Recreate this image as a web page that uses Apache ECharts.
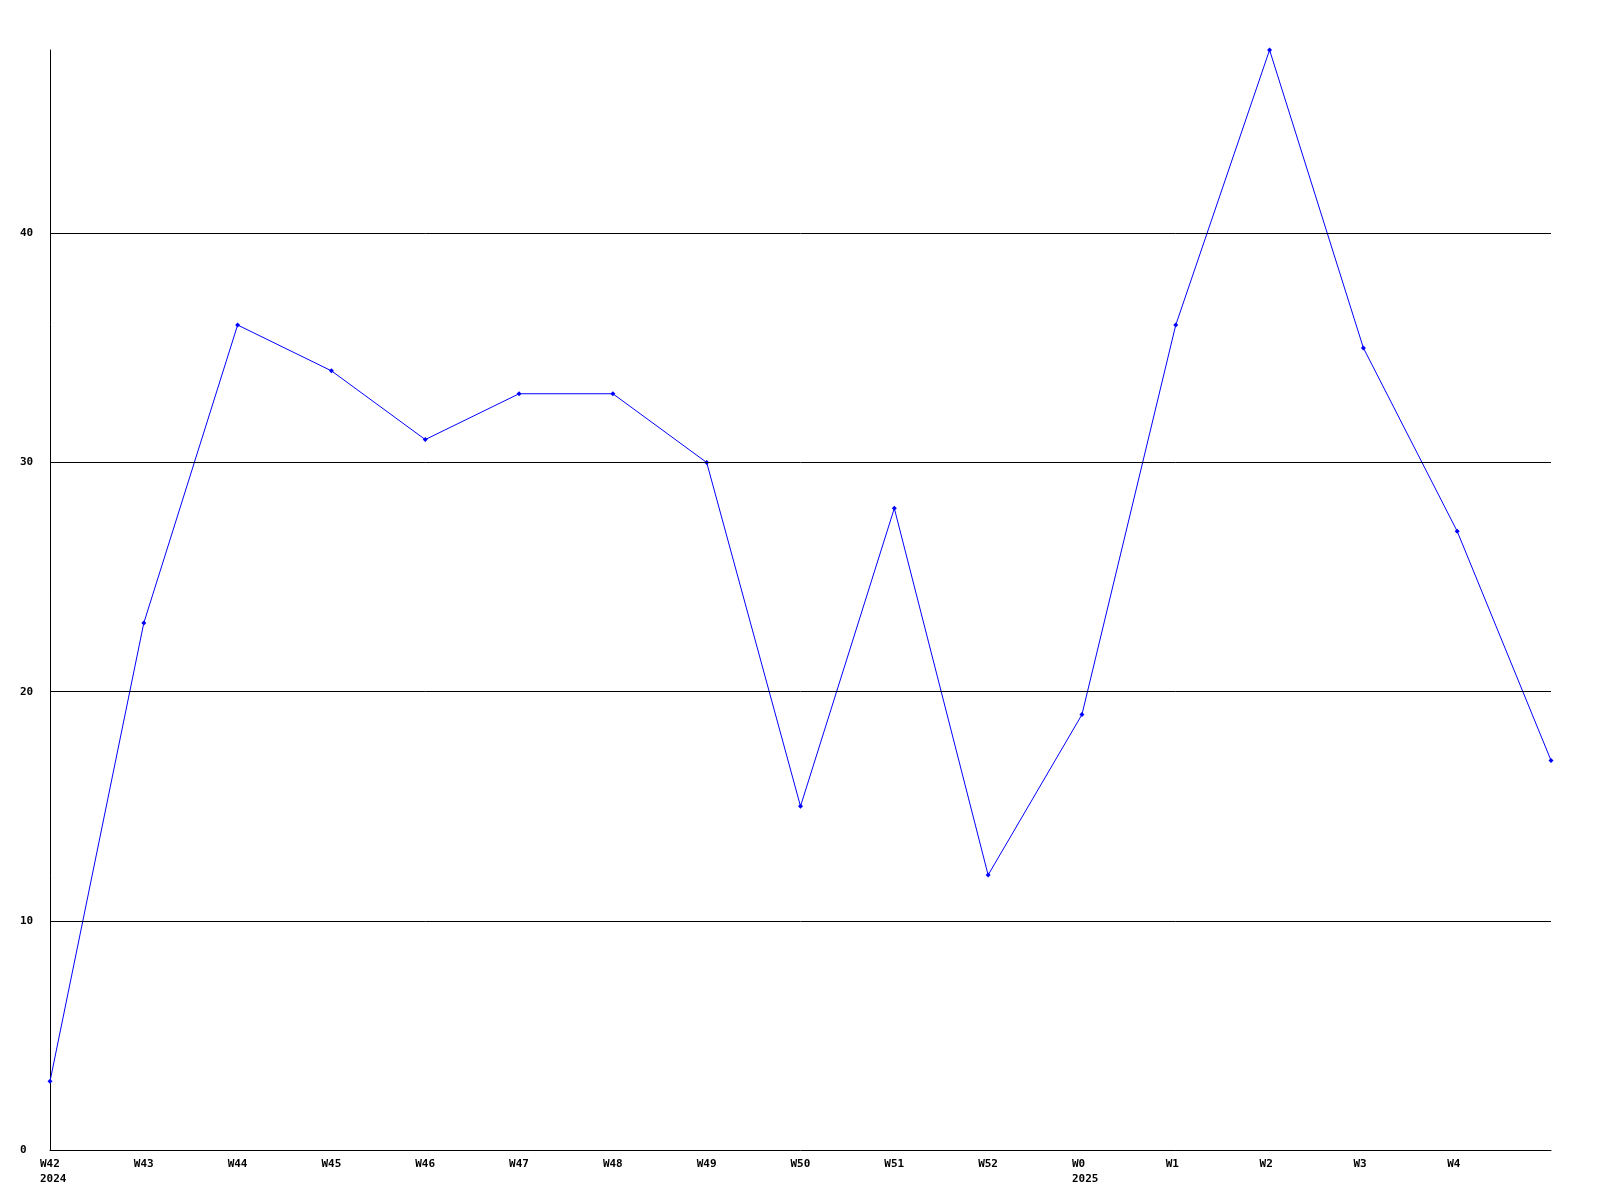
<!DOCTYPE html>
<html><head><meta charset="utf-8">
<script src="https://cdn.jsdelivr.net/npm/echarts@6/dist/echarts.min.js"></script>
<style>html,body{margin:0;padding:0;background:#fff}#c{width:1600px;height:1200px}</style>
</head><body><div id="c"></div>
<script>
const categories = ["W42\n2024","W43","W44","W45","W46","W47","W48","W49","W50","W51","W52","W0\n2025","W1","W2","W3","W4",""];
const values = [3,23,36,34,31,33,33,30,15,28,12,19,36,48,35,27,17];
const gridValues = [10,20,30,40];
const yTicks = [0,10,20,30,40];
const font = {fontFamily:"DejaVu Sans Mono", fontWeight:"bold", fontSize:11, color:"#000"};
const chart = echarts.init(document.getElementById('c'));
chart.setOption({
  animation:false,
  backgroundColor:'#fff',
  grid:{left:50,right:49,top:50,bottom:50},
  xAxis:{type:'category',data:categories,boundaryGap:false,
    axisLine:{lineStyle:{color:'#000',width:1}},axisTick:{show:false},
    axisLabel:Object.assign({interval:0,margin:7,lineHeight:15,align:'center',verticalAlign:'top',
      formatter:v=>v===''?'':v.split('\n').map(s=>'{a|'+s+'}').join('\n'),
      rich:{a:Object.assign({width:20,align:'left',lineHeight:15},font)}},font),
    splitLine:{show:false}},
  yAxis:{type:'value',min:0,max:48,interval:10,
    axisLine:{show:true,lineStyle:{color:'#000',width:1}},axisTick:{show:false},
    splitLine:{show:false},
    axisLabel:Object.assign({margin:30,align:'left',formatter:v=>yTicks.includes(v)?String(v):''},font)},
  series:[{type:'line',data:values,symbol:'diamond',symbolSize:5,showSymbol:true,
    lineStyle:{color:'#0000ff',width:1},itemStyle:{color:'#0000ff'},
    markLine:{silent:true,symbol:['none','none'],label:{show:false},
      lineStyle:{color:'#000',width:1,type:'solid'},
      data:gridValues.map(v=>({yAxis:v}))}}]
});
</script></body></html>
